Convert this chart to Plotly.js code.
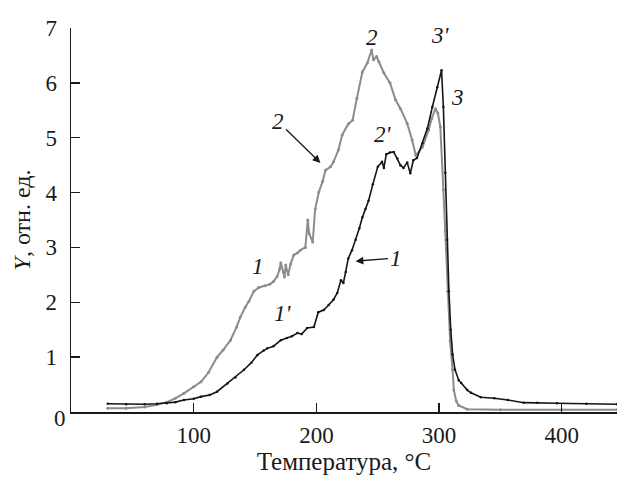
<!DOCTYPE html>
<html>
<head>
<meta charset="utf-8">
<script src="https://cdn.plot.ly/plotly-3.0.1.min.js"></script>
<style>html,body{margin:0;padding:0;background:#fff}#chart{width:617px;height:477px}</style>
</head>
<body>
<div id="chart"></div>
<script>
// Curve 1-2-3 (gray)
const grayT = [30,45,60,70,78,85,92,100,106,112,119,124,130,135,138,142,145,149,153,158,162,165,168,170,171,173,174,175,177,179,181.5,184.5,187,191,193,194,197,199,202,205,207.5,211.5,214,218,221,226,229.5,233,237.5,241.5,245,246.5,249,251,255,260,264.5,268.5,274,278,281,286.5,291.5,294,297,299,301,303.5,305,307,309,311,312,314,316,323,350,400,445];
const grayY = [0.07,0.07,0.09,0.13,0.18,0.25,0.34,0.46,0.55,0.72,1.0,1.13,1.31,1.55,1.73,1.91,2.02,2.2,2.27,2.3,2.33,2.38,2.47,2.6,2.72,2.55,2.46,2.68,2.5,2.7,2.86,2.9,2.95,3.0,3.5,3.26,3.1,3.7,4.01,4.2,4.41,4.47,4.56,4.78,5.05,5.25,5.32,5.72,6.2,6.36,6.6,6.42,6.48,6.38,6.18,6.0,5.69,5.53,5.26,4.96,4.68,4.83,5.14,5.35,5.53,5.45,5.2,4.05,3.3,2.2,1.3,0.77,0.4,0.2,0.12,0.05,0.04,0.04,0.04];
// Curve 1'-2'-3' (black)
const blackT = [30,45,60,70,78,85,92,100,106,113,119,127.5,134,141,147,152,157,160,165,171,176,180,184.5,188,192.5,198,201.5,206,210,214,217,220,222,224,226,229,232,235,237.5,240,242.5,246,250,253.5,255,257,260,263,266,268.5,271,274,276.5,279,282,286.5,290.5,294.5,298.5,302,303.5,305,306.5,308,309.5,311,313,316,318,323,326,334,345,356,369,380,396,420,445];
const blackY = [0.15,0.14,0.14,0.15,0.16,0.18,0.22,0.24,0.28,0.31,0.37,0.52,0.63,0.77,0.9,1.04,1.12,1.16,1.2,1.31,1.35,1.38,1.44,1.42,1.53,1.55,1.82,1.86,1.95,2.05,2.17,2.4,2.35,2.55,2.8,2.95,3.14,3.35,3.55,3.7,3.85,4.15,4.47,4.56,4.45,4.7,4.73,4.74,4.62,4.5,4.45,4.55,4.35,4.59,4.63,4.9,5.17,5.56,5.92,6.23,5.56,4.36,3.14,2.2,1.5,1.05,0.77,0.58,0.53,0.4,0.35,0.27,0.25,0.22,0.17,0.17,0.16,0.15,0.14];
const xTicks = [100,200,300,400];
const yTicks = [1,2,3,4,5,6,7];

const FONT = 'Liberation Serif';
const FT = 23;   // tick labels
const FA = 23;   // curve labels
const INK = '#1a1a1a';
const traces = [
  {x: grayT, y: grayY, type: 'scatter', mode: 'lines+markers',
   line: {color: '#8c8c8c', width: 2}, marker: {color: '#8c8c8c', size: 3}, showlegend: false, hoverinfo: 'skip'},
  {x: blackT, y: blackY, type: 'scatter', mode: 'lines+markers',
   line: {color: '#151515', width: 1.6}, marker: {color: '#151515', size: 2.5}, showlegend: false, hoverinfo: 'skip'}
];

function lab(text, x, y, yref) {
  return {text: '<i>' + text + '</i>', x: x, y: y, xref: 'x', yref: yref || 'y', showarrow: false,
          font: {family: FONT, size: FA, color: INK}};
}
const annotations = [
  lab('2', 245.7, 1.013, 'paper'),
  {text: '<i>2</i>', x: 203.3, y: 4.54, xref: 'x', yref: 'y', showarrow: true, arrowhead: 2, arrowsize: 1.2,
   arrowwidth: 1.3, arrowcolor: INK, ax: -42, ay: -41, font: {family: FONT, size: FA, color: INK}},
  lab("2'", 254, 5.05),
  lab("3'", 301, 6.87),
  lab('3', 315, 5.74),
  lab('1', 152, 2.66),
  lab("1'", 173, 1.79),
  {text: '<i>1</i>', x: 231.9, y: 2.75, xref: 'x', yref: 'y', showarrow: true, arrowhead: 2, arrowsize: 1.2,
   arrowwidth: 1.3, arrowcolor: INK, ax: 40, ay: -3, font: {family: FONT, size: FA, color: INK}},
  {text: '0', x: (52 - 71) / 546, y: (412 - 433) / 384, xref: 'paper', yref: 'paper', showarrow: false,
   font: {family: FONT, size: FT, color: INK}}
];

const layout = {
  width: 617, height: 477,
  margin: {l: 71, r: 0, t: 28, b: 65},
  paper_bgcolor: '#fff', plot_bgcolor: '#fff',
  font: {family: FONT, size: FT, color: INK},
  xaxis: {range: [0, 445], tickvals: xTicks, ticktext: xTicks.map(String), ticks: 'inside', ticklen: 9,
          tickcolor: INK, tickwidth: 1.3, showline: true, linecolor: INK, linewidth: 1.5,
          showgrid: false, zeroline: false, ticklabelstandoff: 2,
          tickfont: {family: FONT, size: FT, color: INK},
          title: {text: 'Температура, °C', standoff: 3, font: {family: FONT, size: 25, color: INK}}},
  yaxis: {range: [0, 7], tickvals: yTicks, ticktext: yTicks.map(String), ticks: 'inside', ticklen: 9,
          tickcolor: INK, tickwidth: 1.3, showline: true, linecolor: INK, linewidth: 1.5,
          showgrid: false, zeroline: false, ticklabelstandoff: 8,
          tickfont: {family: FONT, size: FT, color: INK},
          title: {text: '<i>Y</i>, отн. ед.', standoff: 8, font: {family: FONT, size: 24, color: INK}}},
  annotations: annotations
};
Plotly.newPlot('chart', traces, layout, {displayModeBar: false, staticPlot: true});
</script>
</body>
</html>
